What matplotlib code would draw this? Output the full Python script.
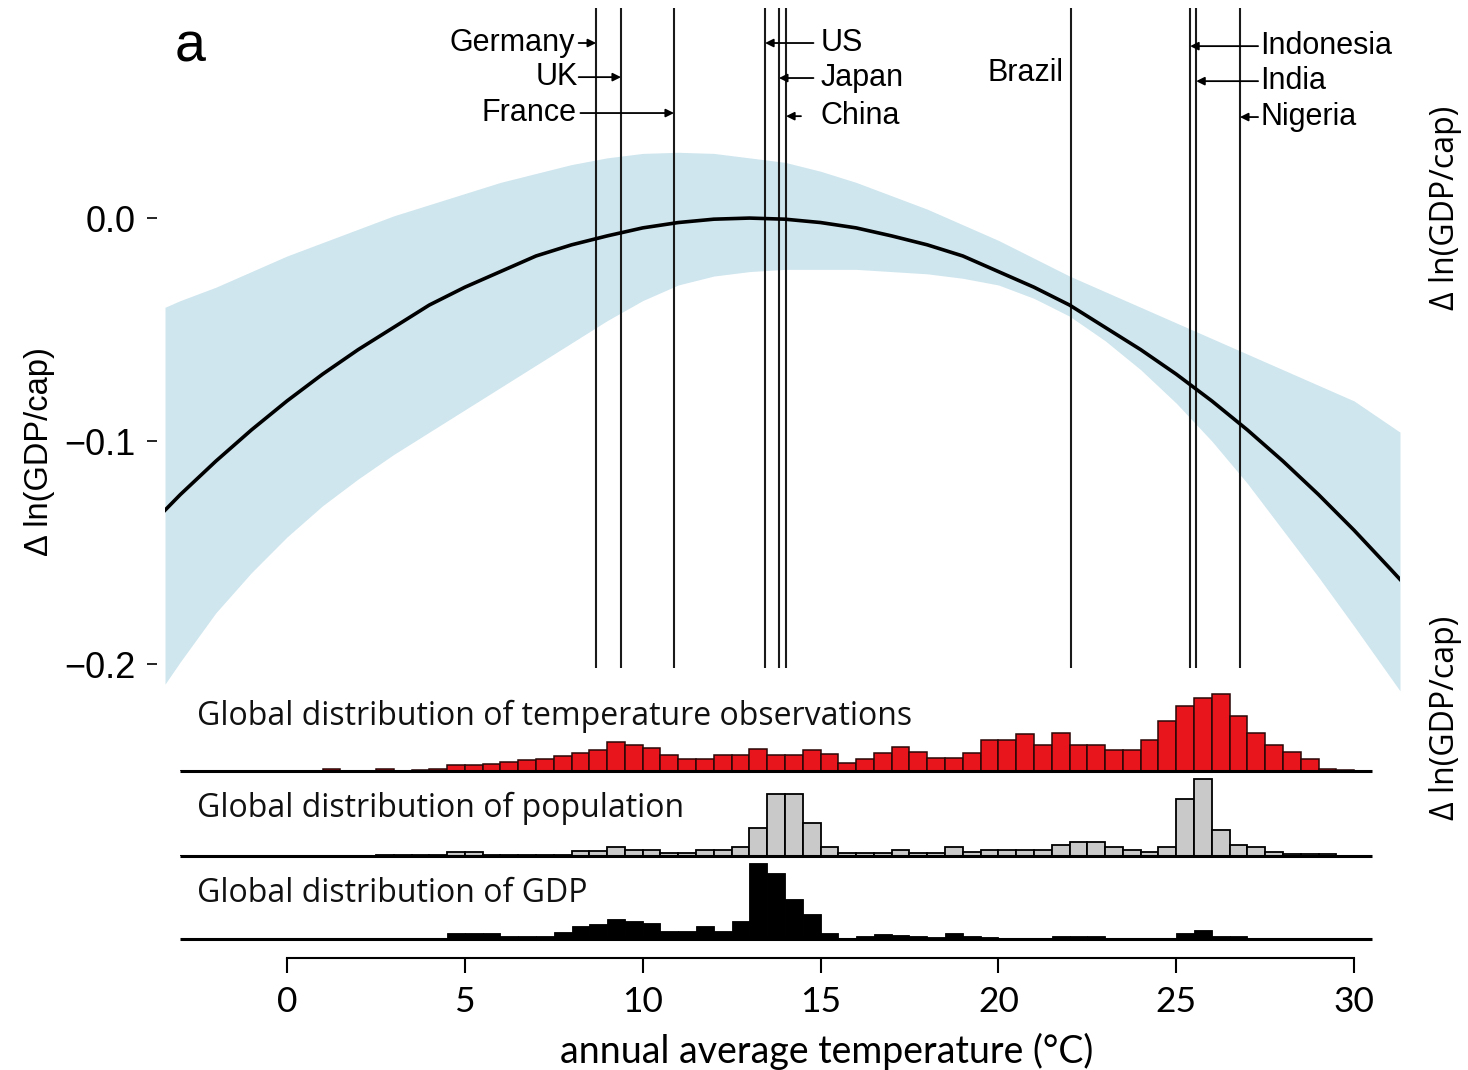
import matplotlib.pyplot as plt

# --- data ---
curve_temp = [-3.43, -3, -2, -1, 0, 1, 2, 3, 4, 5, 6, 7, 8, 9, 10, 11, 12, 13,
              14, 15, 16, 17, 18, 19, 20, 21, 22, 23, 24, 25, 26, 27, 28, 29, 30, 31, 31.29]
curve_val = [-0.131, -0.124, -0.109, -0.095, -0.082, -0.070, -0.059, -0.049, -0.039,
             -0.031, -0.024, -0.017, -0.012, -0.008, -0.0044, -0.002, -0.0005, 0.0,
             -0.0005, -0.002, -0.0044, -0.008, -0.012, -0.017, -0.024, -0.031, -0.039,
             -0.049, -0.059, -0.070, -0.082, -0.095, -0.109, -0.124, -0.140, -0.157, -0.162]

band_temp = [-3.43, -3, -2, -1, 0, 1, 2, 3, 4, 5, 6, 7, 8, 9, 10, 11, 12, 13, 14,
             15, 16, 17, 18, 19, 20, 21, 22, 23, 24, 25, 26, 27, 28, 29, 30, 31.29]
band_hi = [-0.040, -0.037, -0.031, -0.024, -0.017, -0.011, -0.005, 0.001, 0.006,
           0.011, 0.016, 0.020, 0.024, 0.027, 0.029, 0.0295, 0.029, 0.027, 0.025,
           0.021, 0.016, 0.010, 0.004, -0.003, -0.010, -0.018, -0.026, -0.033,
           -0.040, -0.047, -0.054, -0.061, -0.068, -0.075, -0.082, -0.096]
band_lo = [-0.209, -0.199, -0.177, -0.159, -0.143, -0.129, -0.117, -0.106, -0.096,
           -0.086, -0.076, -0.066, -0.056, -0.046, -0.037, -0.030, -0.026, -0.024,
           -0.023, -0.023, -0.023, -0.024, -0.025, -0.027, -0.030, -0.036, -0.044,
           -0.055, -0.068, -0.083, -0.100, -0.119, -0.140, -0.161, -0.183, -0.212]

countries = ["Germany", "UK", "France", "US", "Japan", "China",
             "Brazil", "Indonesia", "India", "Nigeria"]
country_temp = [8.69, 9.39, 10.88, 13.44, 13.83, 14.03, 22.04, 25.39, 25.56, 26.79]

# histogram bins: left edges -3.0 ... 30.0, width 0.5
bin_left = [-3 + 0.5 * i for i in range(67)]
temp_obs = [0, 0, 0, 0, 0, 0, 0, 0,            # -3.0 .. 0.5
            2.5, 0, 0, 2.5, 0, 1.5, 2, 6,       # 1.0 .. 4.5
            6.5, 7, 9, 11, 12, 15, 18, 21,      # 5.0 .. 8.5
            29, 26, 23, 16, 12, 12, 16, 16,     # 9.0 .. 12.5
            22, 16, 16, 21, 17, 8, 12, 18,      # 13.0 .. 16.5
            24, 19, 13, 13, 18, 31, 31, 37,     # 17.0 .. 20.5
            26, 38, 26, 26, 21, 21, 31, 50,     # 21.0 .. 24.5
            65, 73, 77, 55, 38, 26, 19, 12,     # 25.0 .. 28.5
            2.5, 1.5, 0]                        # 29.0 .. 30.0
population = [0, 0, 0, 0, 0, 0, 0, 0,
              0, 0, 0, 1.5, 1.5, 1.5, 1.5, 4,
              4, 1.5, 1.5, 1.5, 1.5, 1.5, 5, 5,
              9, 6, 6, 3.5, 3.5, 6.5, 6.5, 9,
              28, 62, 62, 33, 9.5, 3.5, 3.5, 3.5,
              6.5, 3.5, 3.5, 9, 4, 6.5, 6.5, 6.5,
              6.5, 11.5, 14, 14, 9, 6.5, 4, 9,
              57, 77, 26, 11.5, 9, 4.5, 2.3, 2.3,
              2.3, 0, 0]
gdp = [0, 0, 0, 0, 0, 0, 0, 1.5,
       1.5, 1.5, 1.5, 1.5, 1.5, 1.5, 1.5, 6,
       6.5, 6.5, 3.5, 3.5, 3.5, 7.5, 13, 15,
       20, 18, 16, 8, 8, 13, 8, 18,
       76, 66, 40, 25, 6, 1, 2.7, 5,
       4, 2.7, 1.7, 6, 2.7, 1.7, 1, 1,
       1, 3.3, 3.3, 3.3, 1, 1, 1, 1,
       6, 9, 3.3, 3.3, 1, 1, 1, 1,
       1, 0, 0]

x_ticks = [0, 5, 10, 15, 20, 25, 30]
y_ticks = [-0.2, -0.1, 0.0]
y_ticklabels = ["\u22120.2", "\u22120.1", "0.0"]

W, H = 1468, 1070
XMIN, XMAX = -3.43, 31.29


def fx(px):
    return px / W


def fy(py):
    return 1 - py / H


fig = plt.figure(figsize=(W / 100, H / 100), dpi=100)

# main panel
ax = fig.add_axes([fx(165), fy(700), fx(1400) - fx(165), fy(8) - fy(700)])
ax.set_xlim(XMIN, XMAX)
ax.set_ylim(-0.2161, 0.0942)
ax.fill_between(band_temp, band_lo, band_hi, color="#cfe6ee", lw=0, zorder=1)
ax.vlines(country_temp, -0.2018, 0.0942, color="#1a1a1a", lw=1.5, zorder=2)
ax.plot(curve_temp, curve_val, color="black", lw=2.6, zorder=3)
for s in ax.spines.values():
    s.set_visible(False)
ax.spines["left"].set_position(("outward", 6))
ax.set_xticks([])
ax.set_yticks(y_ticks)
ax.set_yticklabels(y_ticklabels, fontsize=26, family="Liberation Sans")
ax.tick_params(axis="y", direction="out", length=7, width=1.2, pad=8)

# country labels and arrows  (text x, text y, arrow start, align)
label_pos = {
    "Germany": (8.10, 0.0785, 8.20, "right"),
    "UK": (8.18, 0.0632, 8.20, "right"),
    "France": (8.15, 0.0471, 8.25, "right"),
    "US": (14.99, 0.0785, 14.80, "left"),
    "Japan": (14.99, 0.0628, 14.80, "left"),
    "China": (14.99, 0.0457, 14.45, "left"),
    "Brazil": (20.75, 0.0650, None, "center"),
    "Indonesia": (27.36, 0.0771, 27.30, "left"),
    "India": (27.36, 0.0614, 27.30, "left"),
    "Nigeria": (27.36, 0.0453, 27.30, "left"),
}
for name, t in zip(countries, country_temp):
    tx, ty, start, ha = label_pos[name]
    ax.text(tx, ty, name, ha=ha, va="center", fontsize=22,
            family="Liberation Sans", zorder=4)
    if start is not None:
        ax.annotate("", xy=(t, ty), xytext=(start, ty),
                    arrowprops=dict(arrowstyle="-|>", color="black", lw=1.3,
                                    mutation_scale=12, shrinkA=0, shrinkB=0),
                    zorder=4)


# histogram strips
def strip(base_px, heights, face, edge, lw):
    a = fig.add_axes([fx(165), fy(base_px), fx(1400) - fx(165), 85 / H])
    a.set_xlim(XMIN, XMAX)
    a.set_ylim(0, 85)
    a.bar(bin_left, heights, width=0.5, align="edge", color=face,
          edgecolor=edge, linewidth=lw, zorder=2)
    a.hlines(0, -3, 30.5, color="black", lw=2.2, clip_on=False, zorder=3)
    a.patch.set_visible(False)
    for s in a.spines.values():
        s.set_visible(False)
    a.set_xticks([])
    a.set_yticks([])
    return a


strip(771, temp_obs, "#e8151c", "#2a0707", 1.1)
strip(856, population, "#c9c9c9", "black", 1.3)
ag = strip(939, gdp, "black", "black", 0.6)

ag.spines["bottom"].set_visible(True)
ag.spines["bottom"].set_position(("outward", 13.7))
ag.spines["bottom"].set_bounds(0, 30)
ag.spines["bottom"].set_linewidth(1.5)
ag.set_xticks(x_ticks)
ag.set_xticklabels([str(v) for v in x_ticks], fontsize=25.5, family="Lato")
ag.tick_params(axis="x", direction="out", length=11, width=1.5, pad=9)

hist_font = dict(fontsize=23, family="Open Sans", color="#111111", ha="left", va="center")
fig.text(fx(197), fy(716), "Global distribution of temperature observations", **hist_font)
fig.text(fx(197), fy(808), "Global distribution of population", **hist_font)
fig.text(fx(197), fy(893), "Global distribution of GDP", **hist_font)

fig.text(fx(827), fy(1051), "annual average temperature (\u00b0C)", fontsize=27,
         family="Lato", ha="center", va="center")
fig.text(fx(40), fy(452), "\u0394 ln(GDP/cap)", rotation=90, fontsize=23.5,
         family="Liberation Sans", ha="center", va="center")
fig.text(fx(190), fy(48), "a", fontsize=40, family="Liberation Sans",
         ha="center", va="center")
fig.text(fx(1446), fy(208), "\u0394 ln(GDP/cap)", rotation=90, fontsize=23,
         family="Open Sans", ha="center", va="center")
fig.text(fx(1446), fy(718), "\u0394 ln(GDP/cap)", rotation=90, fontsize=23,
         family="Open Sans", ha="center", va="center")

fig.savefig("out.png", dpi=100)
